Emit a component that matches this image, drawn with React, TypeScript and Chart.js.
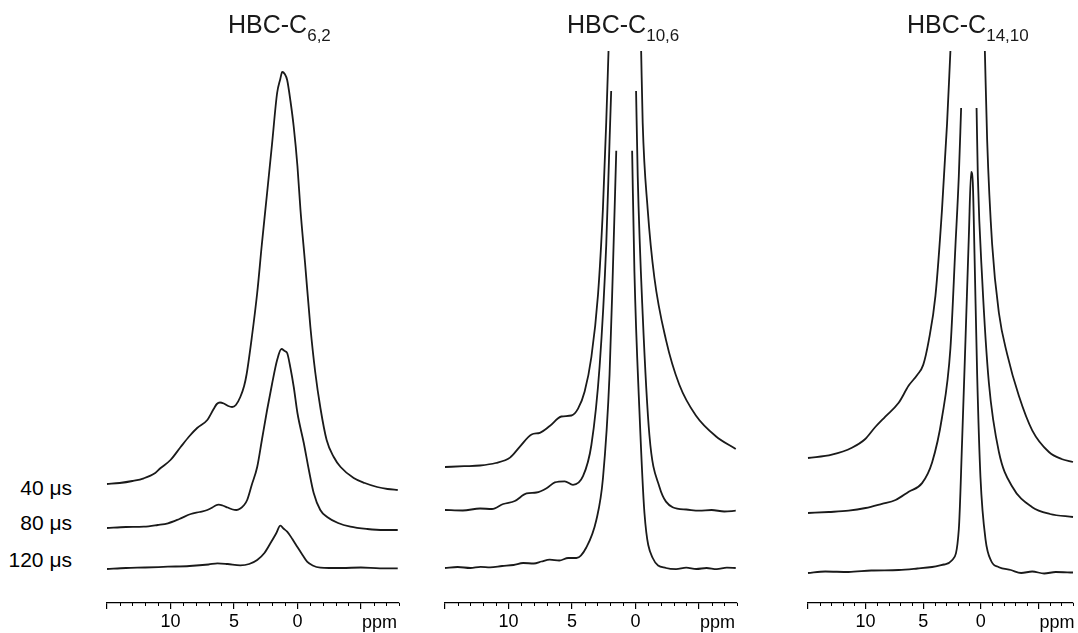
import React, { useEffect, useRef } from "react";
import { Chart, registerables } from "chart.js";

Chart.register(...registerables);

const FONT = "Arial, 'Liberation Sans', Helvetica, sans-serif";

// ---------- axis ----------
const ppmMax = 15;
const ppmMin = -8;
const majorTicks = [15, 10, 5, 0, -5];
const majorTickLabels = ["", "10", "5", "0", "ppm"];
const minorTicks = [14, 13, 12, 11, 9, 8, 7, 6, 4, 3, 2, 1, -1, -2, -3, -4, -6, -7, -8];
const unitLabel = "ppm";

// ---------- labels ----------
const sampleNames = ["6,2", "10,6", "14,10"];
const delayLabels = ["40 μs", "80 μs", "120 μs"];

// ---------- HBC-C6,2 ----------
const c62Offsets = [116, 72, 32];
const c62Ppm40 = [15.0, 14.0, 13.0, 12.1, 11.2, 10.8, 10.0, 9.2, 8.5, 7.9, 7.1, 6.6, 6.35, 6.1, 5.8, 5.45, 5.15, 4.85, 4.5, 4.2, 4.0, 3.6, 3.17, 2.8, 2.39, 2.0, 1.6, 1.35, 1.2, 1.0, 0.81, 0.55, 0.29, 0, -0.24, -0.6, -1.02, -1.4, -1.81, -2.3, -2.86, -3.4, -4.43, -5.3, -6.28, -7.1, -7.9];
const c62Int40 = [0, 1, 3, 5.7, 11, 15.7, 24, 37, 48, 56, 64, 75, 80, 81.5, 80.5, 78, 77, 79, 87, 98, 110, 146, 191, 240, 291, 340, 391, 405, 412, 410, 404, 383, 357, 318, 274, 221, 157, 112, 76, 44, 27, 17, 6, 1, -3, -5, -6];
const c62Ppm80 = [15.0, 13.5, 12.1, 11.0, 10.2, 9.3, 8.4, 7.7, 7.1, 6.7, 6.45, 6.2, 5.9, 5.5, 5.1, 4.8, 4.5, 4.2, 3.96, 3.6, 3.17, 2.8, 2.39, 2.0, 1.6, 1.26, 1.0, 0.81, 0.55, 0.29, 0, -0.5, -0.9, -1.28, -1.8, -2.34, -3.2, -4.17, -5.5, -6.8, -7.9];
const c62Int80 = [0, 1, 1.3, 3, 4.7, 9, 14, 16, 18, 20.5, 22.5, 23.3, 22.5, 20.5, 18.5, 18, 19.5, 23, 28, 43, 61, 88, 118, 144, 168, 179, 177, 175, 160, 141, 115, 85, 58, 35, 18, 11, 5, 1.3, -1, -2, -2];
const c62Ppm120 = [15.0, 13.5, 12.0, 10.2, 8.5, 7.0, 6.3, 5.5, 4.5, 3.8, 3.17, 2.6, 2.13, 1.7, 1.34, 1.1, 0.81, 0.4, 0.02, -0.4, -0.76, -1.2, -1.81, -2.5, -3.5, -5.0, -6.5, -7.9];
const c62Int120 = [-1, 0, 0.5, 1.3, 2, 3.5, 4.7, 4, 2.7, 4, 8, 15, 24.7, 34, 42.3, 39.5, 36.3, 29, 21.3, 13, 6.3, 2.5, 0.3, 0, 0, 0.5, -0.3, -0.3];

// ---------- HBC-C10,6 ---------- (null = peak clipped off the top)
const c106Offsets = [133, 90, 32];
const c106Ppm40 = [15.0, 13.5, 12.24, 11.0, 9.88, 9.1, 8.18, 7.53, 6.75, 5.83, 5.04, 4.52, 4.0, 3.47, 2.95, 2.56, 2.3, 2.12, 0.8, -0.45, -0.57, -0.96, -1.49, -2.4, -3.45, -4.76, -6.33, -7.9];
const c106Int40 = [0, 0.8, 1.5, 4, 9.4, 20.4, 32.5, 34.2, 41, 50.5, 51.5, 58.4, 75.6, 110, 172, 258.5, 344.7, 416, null, 416, 344.7, 258.5, 189.5, 127.4, 82.5, 51.5, 30.8, 18];
const c106Ppm80 = [15.0, 13.6, 12.24, 11.3, 10.41, 9.5, 8.57, 7.8, 7.0, 6.35, 5.57, 4.92, 4.13, 3.47, 2.82, 2.3, 2.04, 1.91, 0.9, -0.05, -0.18, -0.57, -1.1, -1.88, -2.93, -4.0, -5.02, -6.0, -7.0, -7.9];
const c106Int80 = [0, -0.5, 1.5, 1, 6, 9, 16.6, 17.5, 21.8, 27.6, 28.7, 25.2, 33.8, 65, 144, 265, 368.5, 419, null, 419, 334, 196, 75, 23.5, 2.8, 0.5, -0.7, 0, -1.5, -0.7];
const c106Ppm120 = [15.0, 14.0, 13.0, 12.2, 11.45, 10.5, 9.6, 8.84, 8.0, 7.4, 6.75, 6.0, 5.3, 4.65, 3.87, 3.08, 2.56, 2.04, 1.78, 1.51, 0.9, 0.26, 0.08, -0.31, -0.71, -1.36, -2.41, -3.2, -4.0, -4.8, -5.6, -6.4, -7.2, -7.9];
const c106Int120 = [0, 1, 0, 1.2, 0.7, 2, 3, 5, 4.5, 6.5, 8.4, 7.5, 10, 10, 20.5, 48, 89.5, 193, 296.5, 417.2, null, 417.2, 296.5, 158.5, 55, 10, 0, -1.2, 0.3, -1, 0, -1.2, 0.3, 0];

// ---------- HBC-C14,10 ----------
const c1410Offsets = [142, 87, 28];
const c1410Ppm40 = [15.0, 12.93, 11.19, 10.03, 9.16, 8.29, 7.13, 6.26, 5.54, 5.0, 4.52, 3.94, 3.37, 2.93, 2.64, 1.15, -0.35, -0.55, -0.98, -1.57, -2.29, -3.3, -4.46, -5.91, -7.0, -8.0];
const c1410Int40 = [0, 3.4, 10.3, 19, 31, 41.4, 55.2, 72.4, 82.8, 93.1, 117.3, 162.1, 248.4, 334.6, 407, null, 407, 317.5, 214, 145, 103.6, 62.2, 27.7, 6, -1, -4];
const c1410Ppm80 = [15.0, 13.2, 11.48, 10.0, 8.58, 7.4, 6.26, 5.1, 4.23, 3.37, 2.64, 2.2, 1.91, 1.71, 1.05, 0.37, 0.26, -0.12, -0.7, -1.57, -2.72, -4.46, -6.0, -8.0];
const c1410Int80 = [0, 1, 2.3, 5, 9.2, 13, 21.3, 29.9, 50.6, 95.5, 164.5, 268, 337, 405, null, 405, 337, 233.5, 130, 61, 26.5, 5.8, -1, -4];
const c1410Ppm120 = [15.0, 13.5, 11.48, 9.5, 7.13, 5.5, 4.23, 3.2, 2.5, 1.91, 1.63, 1.33, 1.04, 0.84, 0.7, 0.55, 0.32, 0.03, -0.41, -0.9, -1.57, -2.6, -3.5, -4.46, -5.5, -6.5, -8.0];
const c1410Int120 = [-1, 0.5, 0, 1.5, 2, 3.5, 5, 7.5, 11.7, 42.7, 129, 232.5, 336, 400, 390, 318.7, 198, 94.5, 32.4, 11, 4.8, 2, -1, 0.5, -1.5, 0, -0.5];

type Trace = { ppm: number[]; intensity: (number | null)[]; offset: number };

const panels = [
  {
    name: sampleNames[0],
    left: 95,
    width: 320,
    padLeft: 12,
    padRight: 16,
    titleLeft: 228,
    traces: [
      { ppm: c62Ppm40, intensity: c62Int40, offset: c62Offsets[0] },
      { ppm: c62Ppm80, intensity: c62Int80, offset: c62Offsets[1] },
      { ppm: c62Ppm120, intensity: c62Int120, offset: c62Offsets[2] },
    ] as Trace[],
  },
  {
    name: sampleNames[1],
    left: 433,
    width: 320,
    padLeft: 12,
    padRight: 16,
    titleLeft: 567,
    traces: [
      { ppm: c106Ppm40, intensity: c106Int40, offset: c106Offsets[0] },
      { ppm: c106Ppm80, intensity: c106Int80, offset: c106Offsets[1] },
      { ppm: c106Ppm120, intensity: c106Int120, offset: c106Offsets[2] },
    ] as Trace[],
  },
  {
    name: sampleNames[2],
    left: 796,
    width: 282,
    padLeft: 12,
    padRight: 5,
    titleLeft: 907,
    traces: [
      { ppm: c1410Ppm40, intensity: c1410Int40, offset: c1410Offsets[0] },
      { ppm: c1410Ppm80, intensity: c1410Int80, offset: c1410Offsets[1] },
      { ppm: c1410Ppm120, intensity: c1410Int120, offset: c1410Offsets[2] },
    ] as Trace[],
  },
];

const TICK_FONT_SIZE = 18;

// minor ticks + the "ppm" unit label, which sits to the right of its tick
const axisExtrasPlugin = {
  id: "axisExtras",
  afterDraw(chart: any) {
    const xs = chart.scales.x;
    const ctx = chart.ctx;
    ctx.save();
    ctx.strokeStyle = "#000";
    ctx.lineWidth = 1;
    minorTicks.forEach((v) => {
      const px = Math.round(xs.getPixelForValue(v)) + 0.5;
      ctx.beginPath();
      ctx.moveTo(px, xs.top);
      ctx.lineTo(px, xs.top + 3);
      ctx.stroke();
    });
    const ui = majorTickLabels.indexOf(unitLabel);
    const ux = xs.getPixelForValue(majorTicks[ui]);
    ctx.fillStyle = "#000";
    ctx.font = `${TICK_FONT_SIZE}px ${FONT}`;
    ctx.textAlign = "left";
    ctx.textBaseline = "middle";
    ctx.fillText(unitLabel, ux + 1, xs.top + 20);
    ctx.restore();
  },
};

const CANVAS_H = 633;

function Panel({ p }: { p: (typeof panels)[number] }) {
  const ref = useRef<HTMLCanvasElement | null>(null);
  useEffect(() => {
    if (!ref.current) return;
    const datasets = p.traces.map((t) => ({
      data: t.ppm.map((x, i) => ({
        x,
        y: t.intensity[i] === null ? null : (t.intensity[i] as number) + t.offset,
      })),
      borderColor: "#1a1a1a",
      borderWidth: 1.8,
      pointRadius: 0,
      cubicInterpolationMode: "monotone" as const,
      spanGaps: false,
      fill: false,
      clip: false as any,
    }));
    const chart = new Chart(ref.current, {
      type: "line",
      data: { datasets },
      options: {
        animation: false,
        responsive: false,
        maintainAspectRatio: false,
        events: [],
        layout: {
          padding: { left: p.padLeft, right: p.padRight, top: 40, bottom: 0 },
          autoPadding: false,
        } as any,
        plugins: { legend: { display: false }, tooltip: { enabled: false } },
        scales: {
          x: {
            type: "linear",
            reverse: true,
            min: ppmMin,
            max: ppmMax,
            afterBuildTicks: (s: any) => {
              s.ticks = majorTicks.map((v) => ({ value: v }));
            },
            afterFit: (s: any) => {
              s.height = 30;
            },
            border: { display: true, color: "#000", width: 1.3 },
            grid: {
              drawOnChartArea: false,
              drawTicks: true,
              tickLength: 6,
              color: "#000",
              tickColor: "#000",
              lineWidth: 1.2,
            },
            ticks: {
              autoSkip: false,
              maxRotation: 0,
              color: "#000",
              padding: 2,
              font: { family: FONT, size: TICK_FONT_SIZE },
              callback: (v: any) => {
                const i = majorTicks.indexOf(Number(v));
                const l = i >= 0 ? majorTickLabels[i] : "";
                return l === unitLabel ? "" : l;
              },
            },
          },
          y: { display: false, min: -3, max: 560 },
        },
      },
      plugins: [axisExtrasPlugin],
    });
    return () => chart.destroy();
  }, [p]);
  return (
    <canvas
      ref={ref}
      width={p.width}
      height={CANVAS_H}
      style={{ position: "absolute", left: p.left, top: 0, width: p.width, height: CANVAS_H, display: "block" }}
    />
  );
}

const labelCenters = [488, 523, 560];

export default function App() {
  return (
    <div style={{ position: "absolute", left: 0, top: 0, width: 1078, height: 633, background: "#fff", fontFamily: FONT, color: "#000" }}>
      {panels.map((p, i) => (
        <Panel key={i} p={p} />
      ))}
      {panels.map((p, i) => (
        <div
          key={"t" + i}
          style={{ position: "absolute", left: p.titleLeft, top: 12, fontSize: 25, lineHeight: "24px", whiteSpace: "nowrap", color: "#1a1a1a" }}
        >
          HBC-C
          <span style={{ fontSize: 17, position: "relative", top: 8 }}>{p.name}</span>
        </div>
      ))}
      {delayLabels.map((l, i) => (
        <div
          key={"l" + i}
          style={{ position: "absolute", right: 1078 - 72, top: labelCenters[i] - 12, fontSize: 21, lineHeight: "24px", whiteSpace: "nowrap" }}
        >
          {l}
        </div>
      ))}
    </div>
  );
}
